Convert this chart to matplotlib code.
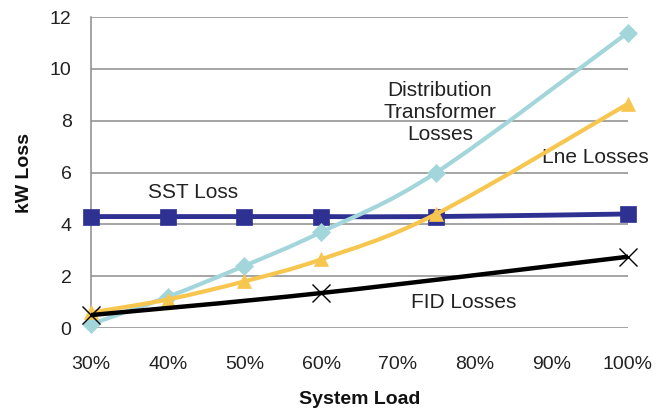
import numpy as np
import matplotlib.pyplot as plt
from matplotlib.path import Path
from matplotlib.patches import PathPatch

plt.rcParams['font.family'] = ['Liberation Sans', 'DejaVu Sans']

# system load (%) and losses (kW)
load = [30, 40, 50, 60, 75, 100]
sst_loss = [4.3, 4.3, 4.3, 4.3, 4.3, 4.4]
dist_tx_loss = [0.15, 1.2, 2.4, 3.7, 6.0, 11.4]
line_loss = [0.6, 1.1, 1.8, 2.65, 4.4, 8.65]
fid_load = [30, 60, 100]
fid_loss = [0.5, 1.35, 2.75]

xticks = [30, 40, 50, 60, 70, 80, 90, 100]
xtick_labels = ['30%', '40%', '50%', '60%', '70%', '80%', '90%', '100%']
yticks = [0, 2, 4, 6, 8, 10, 12]


def smooth_path(x, y):
    # cubic bezier segments through the points (excel-style smoothed line)
    pts = np.column_stack([x, y]).astype(float)
    ext = np.vstack([pts[0], pts, pts[-1]])
    verts = [pts[0]]
    codes = [Path.MOVETO]
    for i in range(len(pts) - 1):
        p0, p1, p2, p3 = ext[i], ext[i + 1], ext[i + 2], ext[i + 3]
        c1 = p1 + (p2 - p0) / 6.0
        c2 = p2 - (p3 - p1) / 6.0
        verts += [c1, c2, p2]
        codes += [Path.CURVE4] * 3
    return Path(verts, codes)


fig = plt.figure(figsize=(6.62, 4.16), dpi=100)
ax = fig.add_axes([0.1375, 0.2115, 0.811, 0.7476])

series = [
    (load, sst_loss, '#2E3192', 's', 11.5, 3.5),
    (load, dist_tx_loss, '#A3D6DA', 'D', 9, 3.0),
    (load, line_loss, '#F7C64E', '^', 10, 3.0),
    (fid_load, fid_loss, '#000000', 'x', 13, 3.2),
]
for i, (x, y, c, m, ms, lw) in enumerate(series):
    ax.add_patch(PathPatch(smooth_path(x, y), fill=False, edgecolor=c,
                           lw=lw, zorder=3 + i, capstyle='round'))
    ax.plot(x, y, ls='none', marker=m, ms=ms, color=c,
            mew=1.0 if m == 'x' else 0.5, zorder=3 + i, clip_on=False)

ax.set_xlim(30, 100)
ax.set_ylim(0, 12)
ax.set_xticks(xticks)
ax.set_xticklabels(xtick_labels)
ax.set_yticks(yticks)
ax.tick_params(length=0, labelsize=14, colors='#222222')
ax.tick_params(axis='y', pad=14)
ax.tick_params(axis='x', pad=20)
ax.yaxis.grid(True, color='#8C8C8C', lw=1.1)
ax.set_axisbelow(True)
for s in ['top', 'right', 'bottom']:
    ax.spines[s].set_visible(False)
ax.spines['left'].set_color('#8C8C8C')
ax.spines['left'].set_linewidth(1.1)

ax.set_xlabel('System Load', fontsize=14, fontweight='bold', labelpad=13,
              color='#111111')
ax.set_ylabel('kW Loss', fontsize=14, fontweight='bold', labelpad=12,
              color='#111111')

txt = dict(fontsize=15, color='#222222', ha='center', va='center')
ax.text(43.3, 5.22, 'SST Loss', **txt)
ax.text(75.5, 8.3, 'Distribution\nTransformer\nLosses', linespacing=1.2, **txt)
ax.text(95.7, 6.58, 'Lne Losses', **txt)
ax.text(78.6, 0.97, 'FID Losses', **txt)

fig.savefig('out.png', dpi=100)
